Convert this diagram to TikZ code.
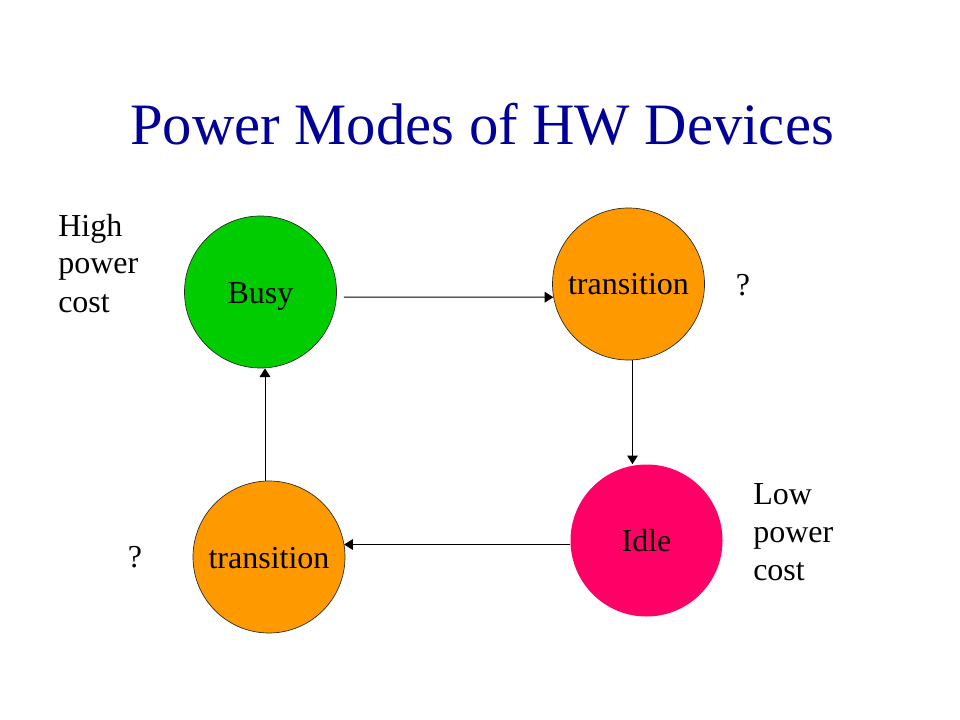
\documentclass[tikz,border=0pt]{standalone}
\usepackage{fontspec}
\setmainfont{Liberation Serif}
\usetikzlibrary{arrows.meta}

\definecolor{busygreen}{RGB}{0,204,0}
\definecolor{transorange}{RGB}{255,153,0}
\definecolor{idlepink}{RGB}{255,0,102}
\definecolor{titleblue}{RGB}{0,0,153}

\begin{document}
\begin{tikzpicture}
	[
		x=0.75pt, y=-0.75pt,
		mode/.style = {shape=circle, minimum size=114pt, inner sep=0pt, draw=black!85, line width=0.5pt, font=\fontsize{24}{28.5}\selectfont, text height=16.5pt, text depth=0pt},
		busymode/.style = {mode, fill=busygreen},
		transmode/.style = {mode, fill=transorange},
		idlemode/.style = {mode, fill=idlepink, draw=none},
		note/.style = {font=\fontsize{24}{28.5}\selectfont, align=left, inner sep=0pt, anchor=base west},
		arr/.style = {-{Triangle[length=6.5pt,width=8pt]}, line width=0.75pt}
	]
	
	\useasboundingbox (0,0) rectangle (960,720);
	
	\node (title) [anchor=base, font=\fontsize{44}{52}\selectfont, text=titleblue, inner sep=0pt] at (482,145) {Power Modes of HW Devices};
	
	\node (busy) [busymode] at (260.5,292) {Busy};
	\node (transup) [transmode] at (628.5,284) {transition};
	\node (idle) [idlemode] at (646.5,540.5) {Idle};
	\node (transdown) [transmode] at (269,557) {transition};
	
	% base of a multi-line note is its last line
	\node (highcost) [note] at (58,312) {High\\power\\cost};
	\node (lowcost) [note] at (753,580) {Low\\power\\cost};
	\node (askup) [note, anchor=base] at (743,296) {?};
	\node (askdown) [note, anchor=base] at (135,567) {?};
	
	\draw [arr] ([shift={(7,5)}]busy.east) -- (transup.190);
	\draw [arr] (transup.273) -- (transup.273 |- idle.north);
	\draw [arr] (idle.183) -- (idle.183 -| transdown.10);
	\draw [arr] (transdown.93) -- (transdown.93 |- busy.south);
	
\end{tikzpicture}
\end{document}
